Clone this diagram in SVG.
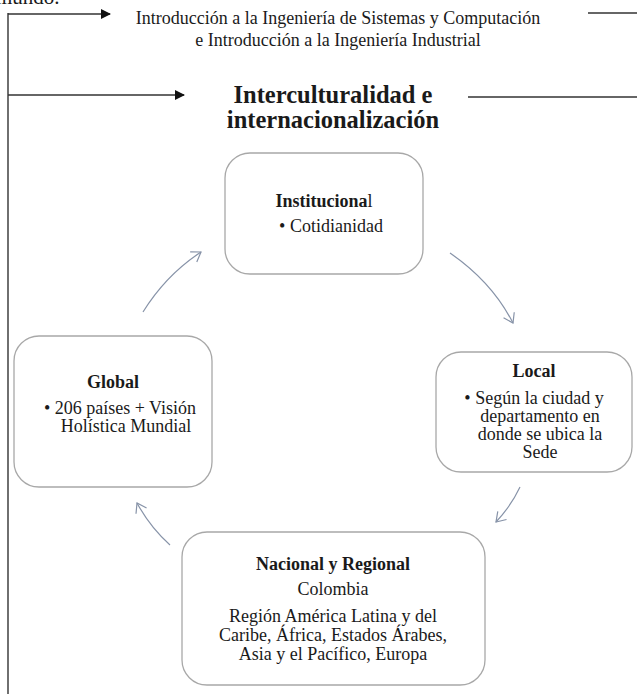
<svg xmlns="http://www.w3.org/2000/svg" width="637" height="694" viewBox="0 0 637 694">
<defs>
<style>
.t{font-family:"Liberation Serif","Times New Roman",serif;fill:#1a1a1a;text-anchor:middle}
.b{font-weight:bold}
.box{fill:#fff;stroke:#a8a8a8;stroke-width:1.3}
.frame{fill:none;stroke:#333;stroke-width:1.4}
.cyc{fill:none;stroke:#8793a8;stroke-width:1.2}
</style>
<marker id="ah" markerWidth="10" markerHeight="10" refX="9" refY="5" orient="auto" markerUnits="userSpaceOnUse">
<path d="M0,0 L10,5 L0,10 Z" fill="#111"/>
</marker>
<marker id="ch" markerWidth="14" markerHeight="14" refX="12" refY="7" orient="auto" markerUnits="userSpaceOnUse">
<path d="M3,1 L12,7 L3,13" fill="none" stroke="#8793a8" stroke-width="1.2"/>
</marker>
</defs>
<rect width="637" height="694" fill="#fff"/>
<text class="t" x="-4" y="4" font-size="21" style="text-anchor:start">mundo.</text>
<g id="connectors">
<line class="frame" x1="8" y1="13" x2="8" y2="694"/>
<line class="frame" x1="8" y1="14" x2="110" y2="14" marker-end="url(#ah)"/>
<line class="frame" x1="588" y1="13" x2="637" y2="13"/>
<line class="frame" x1="8" y1="95" x2="184" y2="95" marker-end="url(#ah)"/>
<line class="frame" x1="468" y1="97" x2="637" y2="97"/>
<path class="cyc" d="M450,253 Q492,282 513,323" marker-end="url(#ch)"/>
<path class="cyc" d="M520,487 Q511,506 496,522" marker-end="url(#ch)"/>
<path class="cyc" d="M170,545 Q150,527 137,503" marker-end="url(#ch)"/>
<path class="cyc" d="M143,312 Q166,275 201,252" marker-end="url(#ch)"/>
</g>
<g id="title">
<text class="t" x="338" y="24" font-size="18">Introducción a la Ingeniería de Sistemas y Computación</text>
<text class="t" x="338" y="46" font-size="18">e Introducción a la Ingeniería Industrial</text>
<text class="t b" x="333" y="103" font-size="24.5">Interculturalidad e</text>
<text class="t b" x="333" y="128" font-size="24.5">internacionalización</text>
</g>
<g id="institucional">
<rect class="box" x="225" y="153" width="198" height="121" rx="25"/>
<text class="t" x="324" y="207" font-size="18"><tspan class="b">Instituciona</tspan>l</text>
<text class="t" x="331" y="232" font-size="18">• Cotidianidad</text>
</g>
<g id="local">
<rect class="box" x="436" y="352" width="196" height="120" rx="25"/>
<text class="t b" x="534" y="377" font-size="18">Local</text>
<text class="t" x="534" y="404" font-size="18">• Según la ciudad y</text>
<text class="t" x="540" y="422" font-size="18">departamento en</text>
<text class="t" x="540" y="440" font-size="18">donde se ubica la</text>
<text class="t" x="540" y="458" font-size="18">Sede</text>
</g>
<g id="global">
<rect class="box" x="14" y="336" width="198" height="151" rx="25"/>
<text class="t b" x="113" y="388" font-size="18">Global</text>
<text class="t" x="120" y="414" font-size="18">• 206 países + Visión</text>
<text class="t" x="126" y="432" font-size="18">Holística Mundial</text>
</g>
<g id="nacional">
<rect class="box" x="182" y="532" width="303" height="153" rx="25"/>
<text class="t b" x="333" y="570" font-size="18">Nacional y Regional</text>
<text class="t" x="333" y="595" font-size="18">Colombia</text>
<text class="t" x="333" y="622" font-size="18">Región América Latina y del</text>
<text class="t" x="333" y="641" font-size="18">Caribe, África, Estados Árabes,</text>
<text class="t" x="333" y="660" font-size="18">Asia y el Pacífico, Europa</text>
</g>
</svg>
